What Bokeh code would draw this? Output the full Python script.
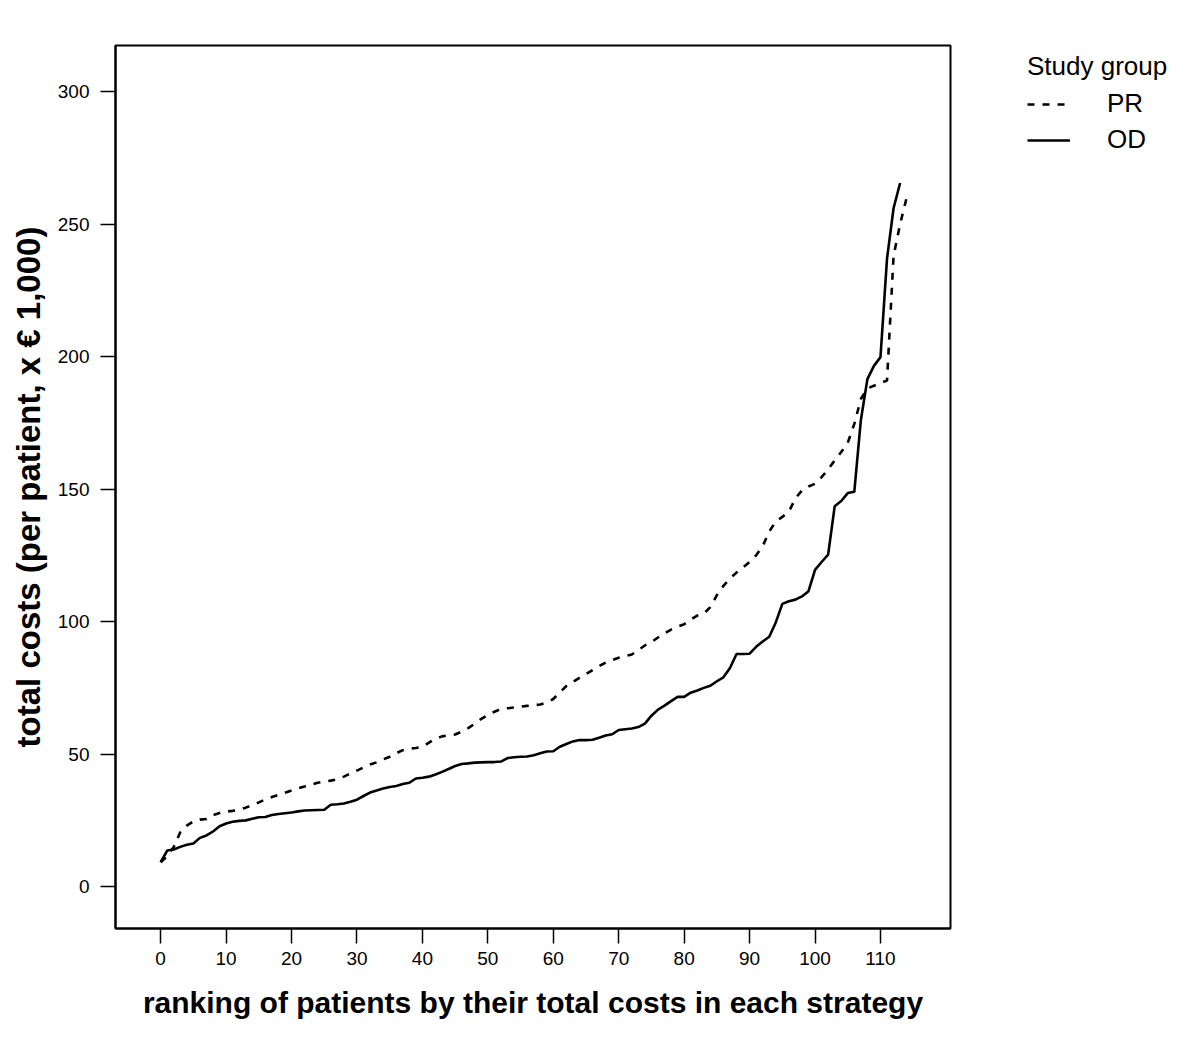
from bokeh.plotting import figure
from bokeh.models import Range1d, Legend, LegendItem, FixedTicker
from bokeh.embed import file_html
from bokeh.resources import INLINE

# ranking of patients (x) and total costs x EUR 1,000 (y)
pr_rank = list(range(0, 115))
pr_cost = [9.2, 11.5, 15.0, 20.5, 23.0, 24.6, 25.3, 25.5, 27.0, 27.8,
           28.3, 28.6, 29.0, 29.8, 30.8, 31.8, 32.9, 33.8, 34.6, 35.4,
           36.3, 37.1, 37.8, 38.5, 39.2, 39.6, 40.0, 40.5, 41.5, 42.7,
           43.8, 45.0, 46.1, 46.9, 48.0, 49.0, 50.3, 51.5, 52.0, 52.3,
           52.8, 54.3, 55.8, 56.7, 57.1, 57.4, 58.5, 59.8, 61.5, 63.3,
           64.8, 66.0, 67.0, 67.3, 67.6, 67.9, 68.2, 68.5, 68.7, 69.5,
           70.8, 73.3, 75.7, 77.3, 78.8, 80.2, 81.7, 83.2, 84.5, 85.5,
           86.4, 87.0, 87.6, 89.3, 91.0, 92.3, 94.0, 95.6, 97.0, 98.1,
           99.0, 100.8, 102.3, 103.0, 105.5, 110.0, 113.5, 116.3, 118.5, 120.5,
           122.5, 125.0, 128.5, 134.0, 137.8, 139.5, 141.5, 146.5, 149.5, 151.0,
           152.0, 154.5, 157.5, 160.8, 164.0, 167.5, 174.6, 184.0, 188.0, 189.0,
           190.0, 191.0, 238.0, 250.0, 260.0]

od_rank = list(range(0, 114))
od_cost = [9.2, 13.6, 14.0, 15.0, 15.8, 16.3, 18.4, 19.3, 20.8, 22.8,
           23.8, 24.5, 24.8, 25.0, 25.6, 26.2, 26.3, 27.0, 27.4, 27.7,
           28.0, 28.4, 28.7, 28.8, 28.9, 29.0, 30.9, 31.1, 31.4, 32.0,
           32.8, 34.2, 35.5, 36.3, 37.0, 37.6, 38.0, 38.7, 39.2, 40.8,
           41.1, 41.5, 42.3, 43.3, 44.4, 45.5, 46.3, 46.5, 46.8, 46.9,
           47.0, 47.0, 47.2, 48.5, 48.8, 49.0, 49.1, 49.6, 50.3, 51.0,
           51.1, 52.8, 53.8, 54.8, 55.3, 55.3, 55.4, 56.2, 57.0, 57.5,
           59.1, 59.4, 59.7, 60.2, 61.5, 64.5, 66.8, 68.3, 70.0, 71.6,
           71.6, 73.2, 74.0, 75.0, 75.8, 77.5, 79.0, 82.5, 87.8, 87.8,
           87.9, 90.5, 92.5, 94.3, 99.7, 106.7, 107.7, 108.3, 109.5, 111.5,
           119.5, 122.5, 125.3, 143.5, 145.5, 148.5, 149.0, 176.0, 191.5, 196.5,
           199.8, 237.0, 256.0, 265.5]

x_ticks = [0, 10, 20, 30, 40, 50, 60, 70, 80, 90, 100, 110]
y_ticks = [0, 50, 100, 150, 200, 250, 300]

FONT = "Liberation Sans"

p = figure(frame_width=835, frame_height=883, output_backend="svg", toolbar_location=None,
           x_range=Range1d(-6.9, 120.7), y_range=Range1d(-15.8, 317.4),
           min_border_left=115, min_border_top=45, min_border_right=234,
           min_border_bottom=100)
p.grid.visible = False
p.outline_line_color = "black"
p.outline_line_width = 2
p.background_fill_color = "white"
p.border_fill_color = "white"

pr_r = p.line(pr_rank, pr_cost, line_color="black", line_width=2.6, line_dash="7 8")
od_r = p.line(od_rank, od_cost, line_color="black", line_width=2.6)

for ax in (p.xaxis[0], p.yaxis[0]):
    ax.axis_line_color = "black"
    ax.axis_line_width = 2
    ax.major_tick_line_color = "black"
    ax.major_tick_line_width = 1.5
    ax.major_tick_out = 15
    ax.major_tick_in = 0
    ax.minor_tick_line_color = None
    ax.major_label_text_font = FONT
    ax.major_label_text_font_size = "19px"
    ax.major_label_text_color = "black"
    ax.axis_label_text_font = FONT
    ax.axis_label_text_font_style = "bold"
    ax.axis_label_text_color = "black"

p.xaxis[0].ticker = FixedTicker(ticks=x_ticks)
p.yaxis[0].ticker = FixedTicker(ticks=y_ticks)
p.xaxis[0].axis_label = "ranking of patients by their total costs in each strategy"
p.xaxis[0].axis_label_text_font_size = "30px"
p.xaxis[0].major_label_standoff = 8
p.xaxis[0].axis_label_standoff = 18
p.yaxis[0].axis_label = "total costs (per patient, x \u20ac 1,000)"
p.yaxis[0].axis_label_text_font_size = "33px"
p.yaxis[0].major_label_standoff = 11
p.yaxis[0].axis_label_standoff = 8

legend = Legend(items=[LegendItem(label="PR", renderers=[pr_r]),
                       LegendItem(label="OD", renderers=[od_r])],
                title="Study group", title_text_font=FONT,
                title_text_font_size="26px", title_text_font_style="normal",
                title_text_color="black", title_standoff=6,
                location=(77, 773), orientation="vertical",
                label_text_font=FONT, label_text_font_size="26px",
                label_text_color="black",
                glyph_width=43, glyph_height=28, label_standoff=37,
                spacing=5, padding=0, margin=0,
                border_line_color=None, background_fill_alpha=0)
p.add_layout(legend, "right")

open("out.html", "w").write(file_html(p, INLINE))
